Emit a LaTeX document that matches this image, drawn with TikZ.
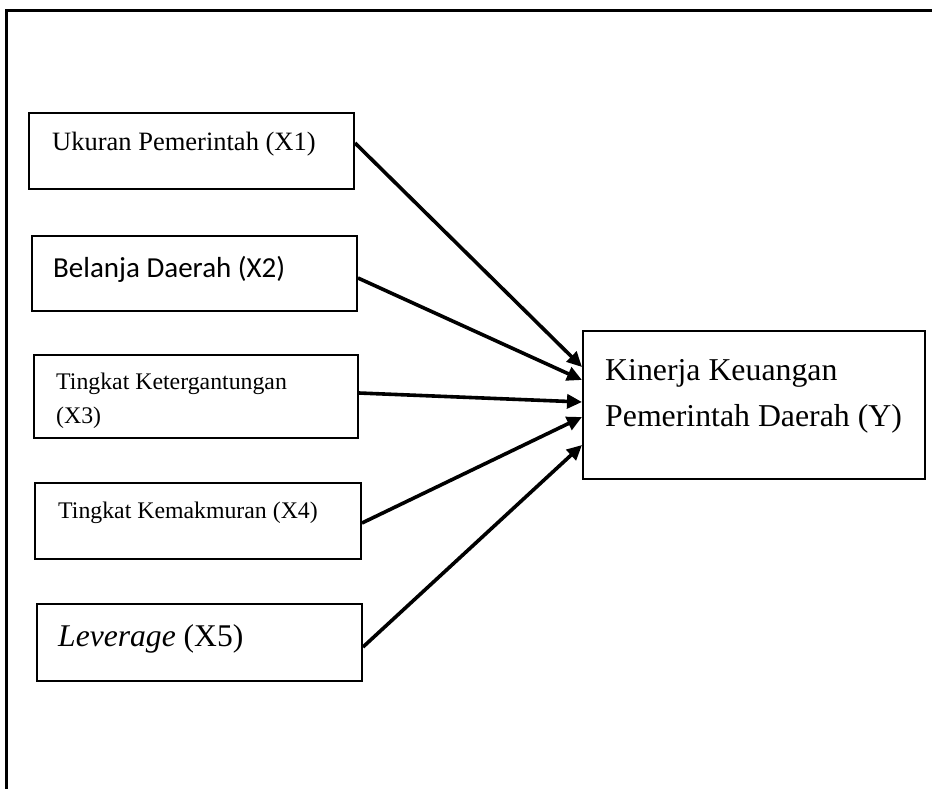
\documentclass[tikz,border=0pt]{standalone}
\usepackage{fontspec}
\setmainfont{Liberation Serif}
\newfontfamily\calibrifont{Carlito}
\usetikzlibrary{arrows.meta}
\begin{document}
\begin{tikzpicture}[x=1bp,y=-1bp,
  box/.style={draw,line width=2bp,inner sep=0pt},
  txt/.style={anchor=base west,inner sep=0pt},
  arr/.style={line width=3.6bp,-{Triangle[length=15bp,width=14bp]}}]
\useasboundingbox (0,0) rectangle (932,789);
% outer frame
\draw[line width=3bp] (935,11) -- (6,11) -- (6,792);
% boxes
\node[box,minimum width=325bp,minimum height=76bp] (b1) at (191.5,151) {};
\node[box,minimum width=325bp,minimum height=75bp] (b2) at (194.5,273.5) {};
\node[box,minimum width=324bp,minimum height=83bp] (b3) at (196,396.5) {};
\node[box,minimum width=326bp,minimum height=76bp] (b4) at (198,521) {};
\node[box,minimum width=325bp,minimum height=77bp] (b5) at (199.5,642.5) {};
\node[box,minimum width=342bp,minimum height=148bp] (y) at (754,405) {};
% texts
\node[txt,font=\fontsize{26.5bp}{30bp}\selectfont] (t1) at (52,150) {Ukuran Pemerintah (X1)};
\node[txt,font=\calibrifont\fontsize{29bp}{33bp}\selectfont] (t2) at (53,277) {Belanja Daerah (X2)};
\node[txt,font=\fontsize{23.8bp}{27bp}\selectfont] (t3a) at (56,389) {Tingkat Ketergantungan};
\node[txt,font=\fontsize{23.8bp}{27bp}\selectfont] (t3b) at (56,423) {(X3)};
\node[txt,font=\fontsize{23.8bp}{27bp}\selectfont] (t4) at (58,518) {Tingkat Kemakmuran (X4)};
\node[txt,font=\fontsize{31.6bp}{36bp}\selectfont] (t5) at (58,646) {\textit{Leverage} (X5)};
\node[txt,font=\fontsize{31.8bp}{36bp}\selectfont] (ty1) at (605,380) {Kinerja Keuangan};
\node[txt,font=\fontsize{31.8bp}{36bp}\selectfont] (ty2) at (605,426) {Pemerintah Daerah (Y)};
% arrows
\draw[arr] ([yshift=8bp]b1.east) -- ([yshift=38bp]y.west);
\draw[arr] ([yshift=-4.5bp]b2.east) -- ([yshift=25bp]y.west);
\draw[arr] ([yshift=3.5bp]b3.east) -- ([yshift=3bp]y.west);
\draw[arr] ([yshift=-2bp]b4.east) -- ([yshift=-12bp]y.west);
\draw[arr] ([yshift=-4.5bp]b5.east) -- ([yshift=-40bp]y.west);
\end{tikzpicture}
\end{document}
